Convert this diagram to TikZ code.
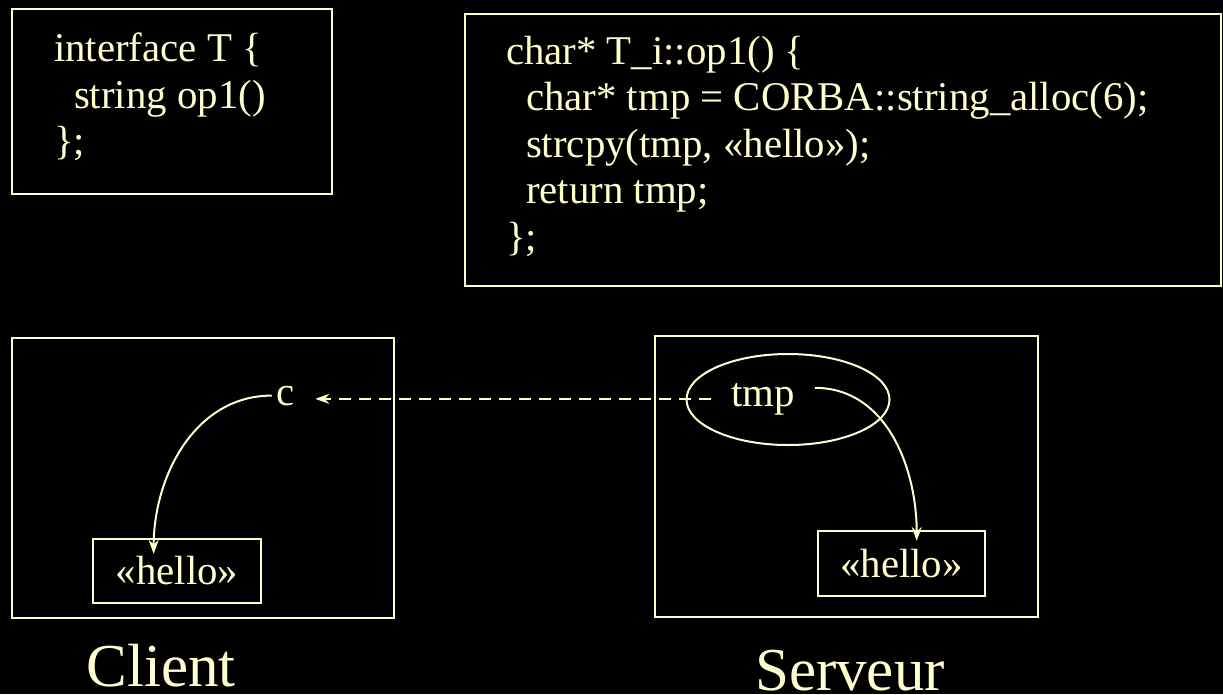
\documentclass[tikz,border=0pt]{standalone}
\usepackage{fontspec}
\setmainfont{Liberation Serif}
\usetikzlibrary{arrows.meta,calc,shapes.geometric}
\definecolor{SlideBlack}{RGB}{0,0,0}
\definecolor{ChalkCream}{RGB}{255,255,204}

\begin{document}
\begin{tikzpicture}[x=1pt,y=-1pt,>={Stealth[length=14pt,width=10pt]},
    every node/.style={text=ChalkCream,font=\fontsize{40.8}{46.5}\selectfont},
    frame/.style={draw=ChalkCream,line width=2.2pt,inner sep=0pt},
    code/.style={align=left,anchor=north west,inner sep=0pt},
    link/.style={draw=ChalkCream,line width=2pt},
    bigname/.style={font=\fontsize{61}{64}\selectfont,anchor=base}]
  \fill[SlideBlack] (0,0) rectangle (1223,694);
  \useasboundingbox (0,0) rectangle (1223,694);

  % code boxes
  \node[frame,minimum width=320pt,minimum height=185pt] (idl) at (172,101.5) {};
  \node[code] (idltext) at ([xshift=43pt,yshift=-25pt]idl.north west)
    {interface T \{\\\hspace*{20pt}string op1()\\\};};
  \node[frame,minimum width=756pt,minimum height=272pt] (impl) at (843,150) {};
  \node[code] (impltext) at ([xshift=42pt,yshift=-23pt]impl.north west)
    {char* T\_i::op1() \{\\
     \hspace*{20pt}char* tmp = CORBA::string\_alloc(6);\\
     \hspace*{20pt}strcpy(tmp, «hello»);\\
     \hspace*{20pt}return tmp;\\
     \};};

  % client and server
  \node[frame,minimum width=382pt,minimum height=280pt] (client) at (203,478) {};
  \node[frame,minimum width=383pt,minimum height=281pt] (server) at (846.5,476.5) {};
  \node[frame,minimum width=168pt,minimum height=64pt] (hc) at (177,571) {«hello»};
  \node[frame,minimum width=167pt,minimum height=65pt] (hs) at (901.5,563.5) {«hello»};

  \node[inner xsep=5pt,anchor=base] (c) at (286,405) {c};
  \node[inner xsep=20pt,anchor=base] (tmp) at (763,406) {tmp};
  \node[ellipse,link,minimum width=203pt,minimum height=91pt] (ring) at (788,399.5) {};

  \draw[link,->,dash pattern=on 12pt off 8pt,shorten >=15pt]
    (tmp.west) -- (c.east |- tmp.west);
  \draw[link,->] (c.west) to[out=180,in=90]
    ($(hc.north west)!0.363!(hc.north east)+(0,16)$);
  \draw[link,->] ([yshift=11pt]tmp.east) to[out=0,in=90]
    ($(hs.north west)!0.59!(hs.north east)+(0,11)$);

  \node[bigname] (clientname) at (161,686) {Client};
  \node[bigname] (servername) at (850,690) {Serveur};
\end{tikzpicture}
\end{document}
